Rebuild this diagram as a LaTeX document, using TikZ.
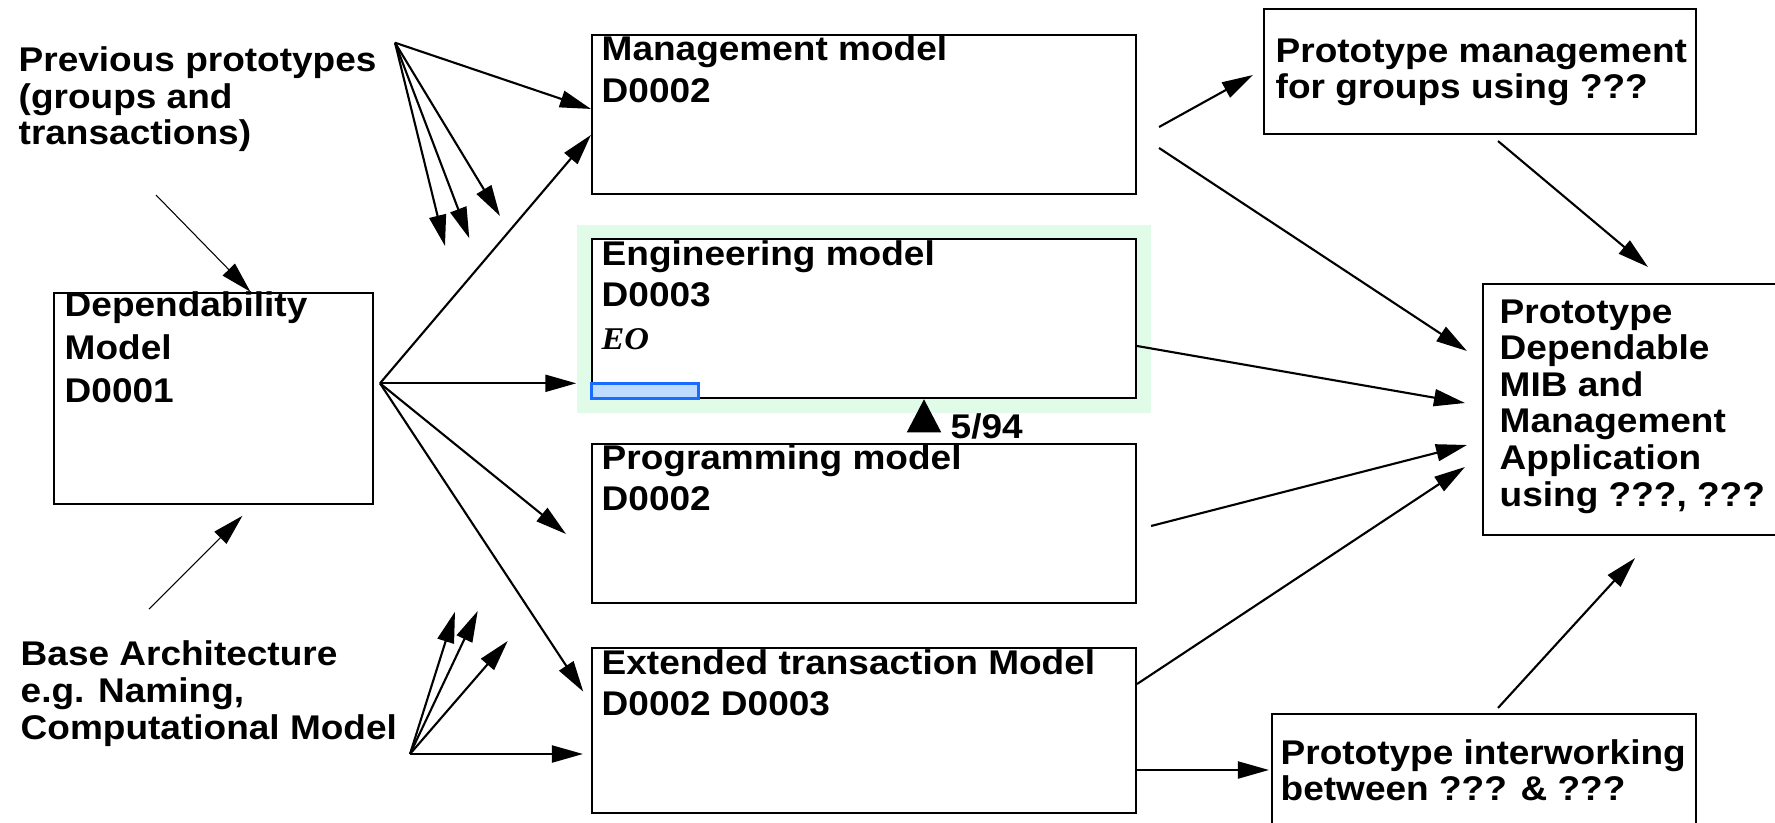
\documentclass[tikz,border=0pt]{standalone}
\usepackage{fontspec}
\setmainfont[FakeStretch=1.08]{Liberation Sans}
\newfontfamily\eofont[FakeStretch=1.08]{Liberation Serif}
\usetikzlibrary{positioning, arrows.meta}

\definecolor{engbg}{HTML}{E0FCE8}
\definecolor{eofill}{HTML}{BFDBFF}
\definecolor{eoline}{HTML}{1A6CFF}

\begin{document}
\begin{tikzpicture}[
        font=\bfseries\fontsize{9.75}{10.4}\selectfont,
        >={Triangle[length=3.1mm, width=1.7mm]},
        % Styles
        box/.style={% For the main boxes
            rectangle,
            draw,
            line width=.6pt,
            inner sep=0pt,
            },
        model/.style={% For the four model boxes
            box,
            fill=white,
            minimum width=5.44cm,
            minimum height=1.59cm,
            },
        boxtext/.style={% For the texts, placed on their last baseline
            anchor=base west,
            align=left,
            inner sep=0pt,
            },
        modeltext/.style={% Wider line spacing inside the model boxes
            boxtext,
            font=\bfseries\fontsize{9.75}{11.8}\selectfont,
            },
        Arrow/.style={% Arrows
            ->,
            line width=.6pt,
            },
        ArrowThin/.style={% Thin arrows into the dependability box
            ->,
            line width=.3pt,
            },
        ]

    \useasboundingbox (0,0) rectangle (17.75,8.22);

    % Nodes
        % Green background of the engineering model
        \node [rectangle, fill=engbg, minimum width=5.74cm, minimum height=1.88cm] (engbg) at (8.64,5.03) {};

        % Draw the boxes
        \node [box, minimum width=3.19cm, minimum height=2.11cm] (dep) at (2.134,4.237) {};
        \node [model] (mgmt) at (8.64,7.075) {};
        \node [model] (eng) at (8.64,5.033) {};
        \node [model] (prog) at (8.64,2.988) {};
        \node [model, minimum height=1.65cm] (ext) at (8.64,0.912) {};
        \node [box, minimum width=4.32cm, minimum height=1.25cm] (protmgmt) at (14.80,7.505) {};
        \node [box, minimum width=2.94cm, minimum height=2.51cm] (protmib) at (16.30,4.125) {};
        \node [box, minimum width=4.24cm, minimum height=1.18cm] (protint) at (14.84,0.49) {};
        \node [rectangle, draw=eoline, fill=eofill, line width=.8pt, minimum width=1.066cm, minimum height=0.15cm, inner sep=0pt] (eobar) at (6.45,4.312) {};

        % Texts
        \node [boxtext] (prevtext) at (0.18,6.77) {Previous prototypes\\(groups and\\transactions)};
        \node [boxtext] (basetext) at (0.20,0.83) {Base Architecture\\e.g. Naming,\\Computational Model};
        \node [boxtext, font=\bfseries\fontsize{9.75}{12.2}\selectfont] (deptext) at (0.64,4.195) {Dependability\\Model\\D0001};
        \node [modeltext] (mgmttext) at (6.01,7.198) {Management model\\D0002};
        \node [modeltext] (engtext) at (6.01,5.155) {Engineering model\\D0003};
        \node [boxtext, font=\eofont\bfseries\itshape\fontsize{9}{10}\selectfont] (eotext) at (6.01,4.73) {EO};
        \node [modeltext] (progtext) at (6.01,3.115) {Programming model\\D0002};
        \node [modeltext] (exttext) at (6.01,1.065) {Extended transaction Model\\D0002 D0003};
        \node [boxtext] (protmgmttext) at (12.75,7.233) {Prototype management\\for groups using ???};
        \node [boxtext] (protmibtext) at (14.99,3.16) {Prototype\\Dependable\\MIB and\\Management\\Application\\using ???, ???};
        \node [boxtext] (protinttext) at (12.80,0.213) {Prototype interworking\\between ??? \& ???};
        \node [boxtext] (datetext) at (9.50,3.837) {5/94};

    % Coordinates for the free ends
        \coordinate (prevsrc) at (3.95,7.793);
        \coordinate (depsrc) at (3.80,4.387);
        \coordinate (basesrc) at (4.10,0.68);
        \coordinate (prev1) at (4.45,5.76);
        \coordinate (prev2) at (4.693,5.837);
        \coordinate (prev3) at (5.00,6.06);
        \coordinate (base1) at (4.55,2.103);
        \coordinate (base2) at (4.777,2.11);
        \coordinate (base3) at (5.077,1.81);
        \coordinate (toprog) at (5.66,2.88);
        \coordinate (toext) at (5.833,1.303);
        \coordinate (inup) at (1.56,6.27);
        \coordinate (indown) at (1.49,2.13);
        \coordinate (tribase) at (9.24,3.92);

    % Connect all.
        % Inputs of the dependability model
        \draw [ArrowThin] (inup) -- ([xshift=0.37cm]dep.north);
        \draw [ArrowThin] (indown) -- ([xshift=0.29cm, yshift=-0.11cm]dep.south);

        % Previous prototypes
        \draw [Arrow] (prevsrc) -- ([yshift=-0.75cm]mgmt.north west);
        \draw [Arrow] (prevsrc) -- (prev1);
        \draw [Arrow] (prevsrc) -- (prev2);
        \draw [Arrow] (prevsrc) -- (prev3);

        % Dependability model
        \draw [Arrow] (depsrc) -- ([yshift=-1.01cm]mgmt.north west);
        \draw [Arrow] (depsrc) -- (depsrc -| engbg.west);
        \draw [Arrow] (depsrc) -- (toprog);
        \draw [Arrow] (depsrc) -- (toext);

        % Base architecture
        \draw [Arrow] (basesrc) -- (base1);
        \draw [Arrow] (basesrc) -- (base2);
        \draw [Arrow] (basesrc) -- (base3);
        \draw [Arrow] (basesrc) -- ([xshift=-0.08cm]basesrc -| ext.west);

        % 5/94 marker
        \draw [-{Triangle[length=3.3mm, width=3.4mm]}] (tribase) -- (tribase |- eng.south);

        % Prototypes
        \draw [Arrow] ([xshift=0.22cm, yshift=-0.125cm]mgmt.east) -- ([xshift=-0.10cm, yshift=-0.035cm]protmgmt.west);
        \draw [Arrow] ([xshift=0.22cm, yshift=-0.335cm]mgmt.east) -- ([xshift=-0.15cm, yshift=0.585cm]protmib.west);
        \draw [Arrow] ([xshift=0.18cm, yshift=-0.06cm]protmgmt.south) -- ([xshift=0.18cm, yshift=0.16cm]protmib.north);
        \draw [Arrow] ([yshift=-0.273cm]eng.east) -- ([xshift=-0.17cm, yshift=0.065cm]protmib.west);
        \draw [Arrow] ([xshift=0.14cm, yshift=-0.028cm]prog.east) -- ([xshift=-0.15cm, yshift=-0.355cm]protmib.west);
        \draw [Arrow] ([yshift=0.468cm]ext.east) -- ([xshift=-0.17cm, yshift=-0.575cm]protmib.west);
        \draw [Arrow] ([yshift=-0.392cm]ext.east) -- ([xshift=-0.02cm, yshift=-0.392cm]ext.east -| protint.west);
        \draw [Arrow] ([xshift=0.14cm, yshift=0.05cm]protint.north) -- ([xshift=0.05cm, yshift=-0.22cm]protmib.south);

\end{tikzpicture}
\end{document}
